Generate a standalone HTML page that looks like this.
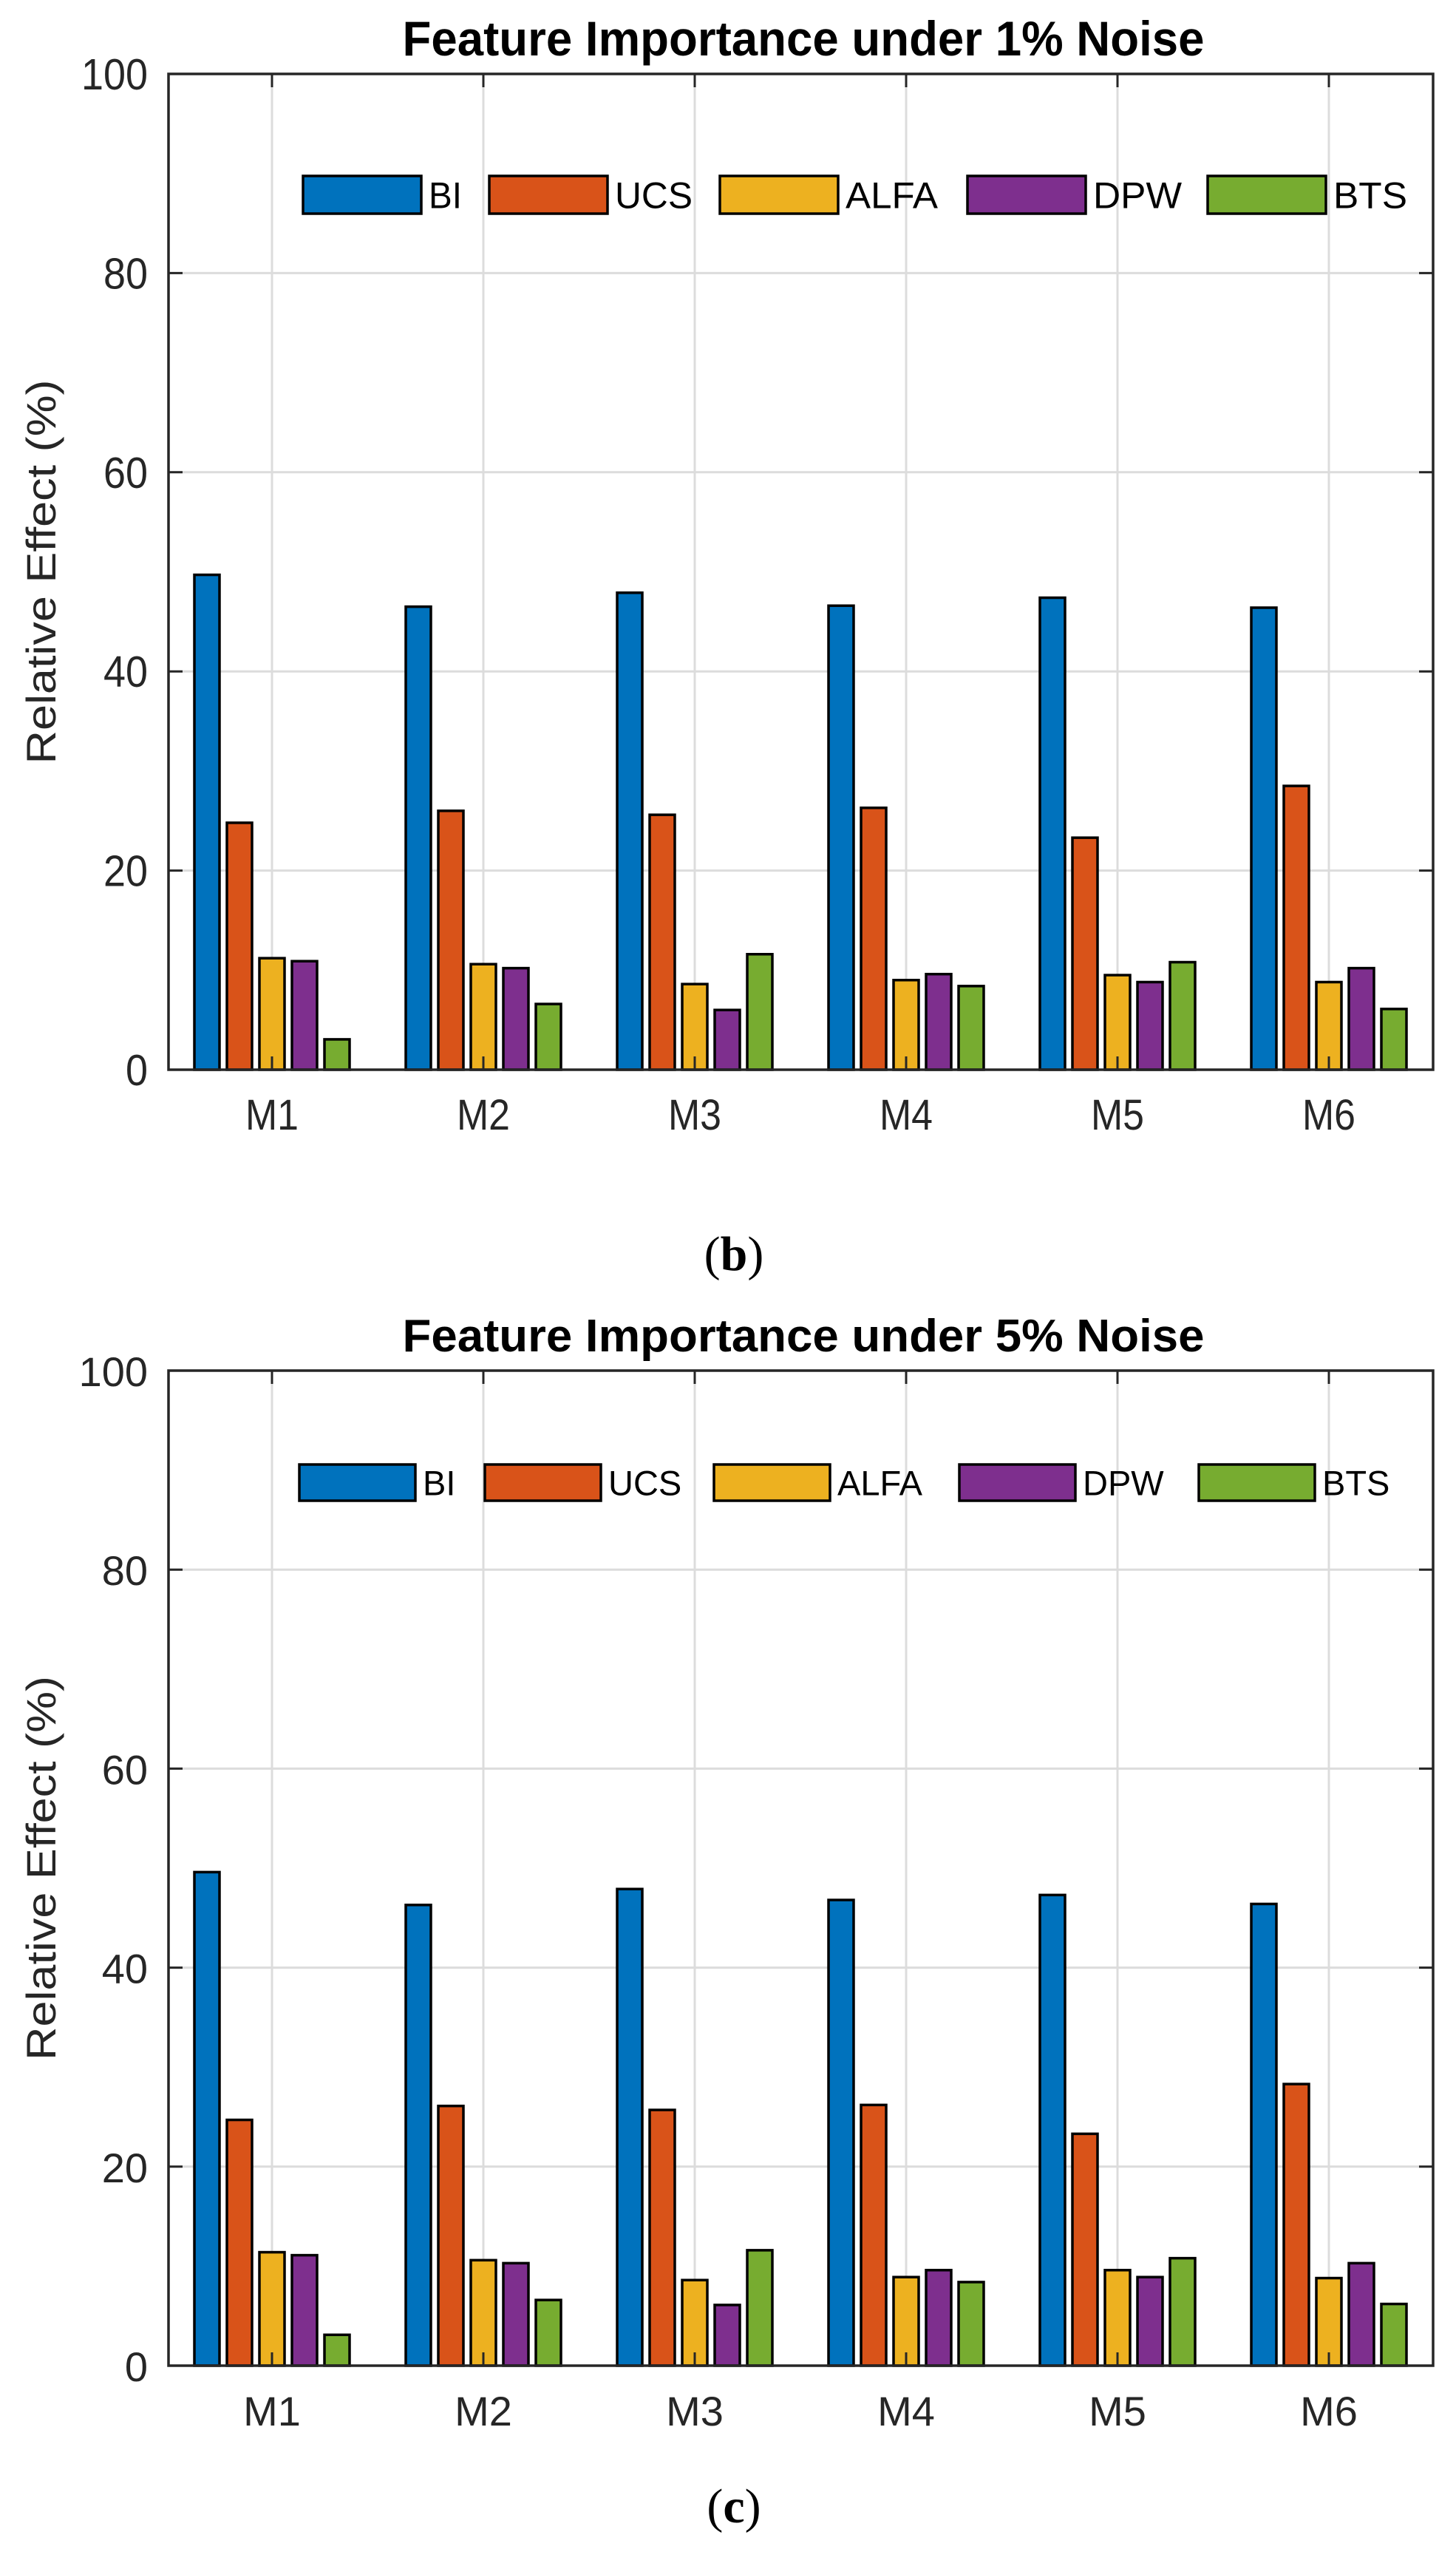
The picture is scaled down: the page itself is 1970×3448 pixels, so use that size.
<!DOCTYPE html>
<html><head><meta charset="utf-8"><style>
html,body{margin:0;padding:0;background:#fff;}
svg{display:block;font-family:"Liberation Sans",Arial,sans-serif;}
</style></head><body>
<svg id="fig" width="1970" height="3448" viewBox="0 0 1970 3448" xmlns="http://www.w3.org/2000/svg"></svg>
<script>
const categories = ["M1","M2","M3","M4","M5","M6"];
const seriesNames = ["BI","UCS","ALFA","DPW","BTS"];
const yTicks = [0,20,40,60,80,100];
const noise1BI   = [49.7,46.5,47.9,46.6,47.4,46.4];
const noise1UCS  = [24.8,26.0,25.6,26.3,23.3,28.5];
const noise1ALFA = [11.2,10.6,8.6,9.0,9.5,8.8];
const noise1DPW  = [10.9,10.2,6.0,9.6,8.8,10.2];
const noise1BTS  = [3.05,6.6,11.6,8.4,10.8,6.1];
const noise5BI   = [49.6,46.3,47.9,46.8,47.3,46.4];
const noise5UCS  = [24.7,26.1,25.7,26.2,23.3,28.3];
const noise5ALFA = [11.4,10.6,8.6,8.9,9.6,8.8];
const noise5DPW  = [11.1,10.3,6.1,9.6,8.9,10.3];
const noise5BTS  = [3.1,6.6,11.6,8.4,10.8,6.2];

const colors = ["#0072BD","#D95319","#EDB120","#7E2F8E","#77AC30"];
const NS="http://www.w3.org/2000/svg";
const svg=document.getElementById('fig');
function mk(tag,attrs,parent,text){const e=document.createElementNS(NS,tag);for(const k in attrs)e.setAttribute(k,attrs[k]);if(text!==undefined)e.textContent=text;(parent||svg).appendChild(e);return e;}

function chart(cfg){
  const g=mk('g',{});
  
  
  const L=228,R=1939,T=cfg.top,B=cfg.bottom;
  const ys=v=>B-(v/100)*(B-T);
  const x0=368,dx=286;
  const xs=i=>x0+i*dx;
  function txt(x,y,s,size,opts,name){
    const a={x:x,y:y,'font-size':size,fill:opts.fill||'#262626','text-anchor':opts.anchor||'middle'};
    if(opts.weight)a['font-weight']=opts.weight;
    if(opts.len){a.textLength=opts.len;a.lengthAdjust='spacingAndGlyphs';}
    if(opts.transform)a.transform=opts.transform;
    const t=mk('text',a,g,s);
    
    
    return t;
  }
  yTicks.forEach(v=>{const l=mk('line',{x1:L,x2:R,y1:ys(v),y2:ys(v),stroke:'#dcdcdc','stroke-width':3},g);
    });
  categories.forEach((c,i)=>{const l=mk('line',{x1:xs(i),x2:xs(i),y1:T,y2:B,stroke:'#dcdcdc','stroke-width':3},g);
    });
  const series=cfg.series;
  const off=[-88,-44,0,44,88];
  categories.forEach((c,i)=>{
    series.forEach((arr,s)=>{
      const v=arr[i];const bw=34;
      const r=mk('rect',{x:xs(i)+off[s]-bw/2,y:ys(v),width:bw,height:B-ys(v),fill:colors[s],stroke:'#000','stroke-width':3.5},g);
      
      
    });
  });
  yTicks.forEach(v=>{
    mk('line',{x1:L,x2:L+19,y1:ys(v),y2:ys(v),stroke:'#262626','stroke-width':3},g);
    mk('line',{x1:R,x2:R-19,y1:ys(v),y2:ys(v),stroke:'#262626','stroke-width':3},g);
    txt(200,ys(v)+21,String(v),cfg.condensed?59:56,{anchor:'end',len:cfg.condensed?(String(v).length*30):undefined},'y-tick-label');
  });
  categories.forEach((c,i)=>{
    mk('line',{x1:xs(i),x2:xs(i),y1:B,y2:B-18,stroke:'#262626','stroke-width':3},g);
    mk('line',{x1:xs(i),x2:xs(i),y1:T,y2:T+18,stroke:'#262626','stroke-width':3},g);
    txt(xs(i),B+81,c,cfg.condensed?58:56,{len:cfg.condensed?72:undefined},'x-tick-label');
  });
  const box=mk('rect',{x:L,y:T,width:R-L,height:B-T,fill:'none',stroke:'#262626','stroke-width':3.5},g);
  
  txt(1087,cfg.titleY,cfg.title,cfg.condensed?66:62,{fill:'#000',weight:'bold',len:1085},'chart-title');
  const cy=(T+B)/2+cfg.ylabOff;
  txt(0,0,'Relative Effect (%)',56,{len:520,transform:'translate(75,'+cy+') rotate(-90)'},'y-axis-title');
  const lg=mk('g',{},g);
  
  seriesNames.forEach((n,s)=>{
    const sx=cfg.legX[s];
    const r=mk('rect',{x:sx,y:cfg.legY,width:cfg.legW,height:cfg.legH,fill:colors[s],stroke:'#000','stroke-width':3.5},lg);
    
    
    const t=mk('text',{x:sx+cfg.legW+10,y:cfg.legY+cfg.legH/2+(cfg.condensed?18:17),'font-size':cfg.condensed?50:47,fill:'#000'},lg,n);
    if(cfg.condensed){t.setAttribute('textLength',cfg.legLen[s]);t.setAttribute('lengthAdjust','spacingAndGlyphs');}
    
    
  });
  const cap=mk('text',{x:cfg.capX,y:cfg.capY,'font-size':66,'font-family':'"Liberation Serif",serif','text-anchor':'middle',fill:'#000'},svg);
  cap.textContent='(';
  mk('tspan',{'font-weight':'bold'},cap,cfg.capLetter);
  mk('tspan',{},cap,')');
  
  
}

chart({name:'chart-1pct-noise',top:100,bottom:1447,condensed:true,title:'Feature Importance under 1% Noise',titleY:75,ylabOff:0,
  series:[noise1BI,noise1UCS,noise1ALFA,noise1DPW,noise1BTS],
  legX:[410,662,974,1309,1634],legY:238,legW:160,legH:51,legLen:[45,105,125,120,100],
  capX:993,capY:1718,capLetter:'b'});
chart({name:'chart-5pct-noise',top:1854,bottom:3200,condensed:false,title:'Feature Importance under 5% Noise',titleY:1828,ylabOff:0,
  series:[noise5BI,noise5UCS,noise5ALFA,noise5DPW,noise5BTS],
  legX:[405,656,966,1298,1622],legY:1981,legW:157,legH:49,legLen:[],
  capX:993,capY:3412,capLetter:'c'});
</script>
</body></html>
